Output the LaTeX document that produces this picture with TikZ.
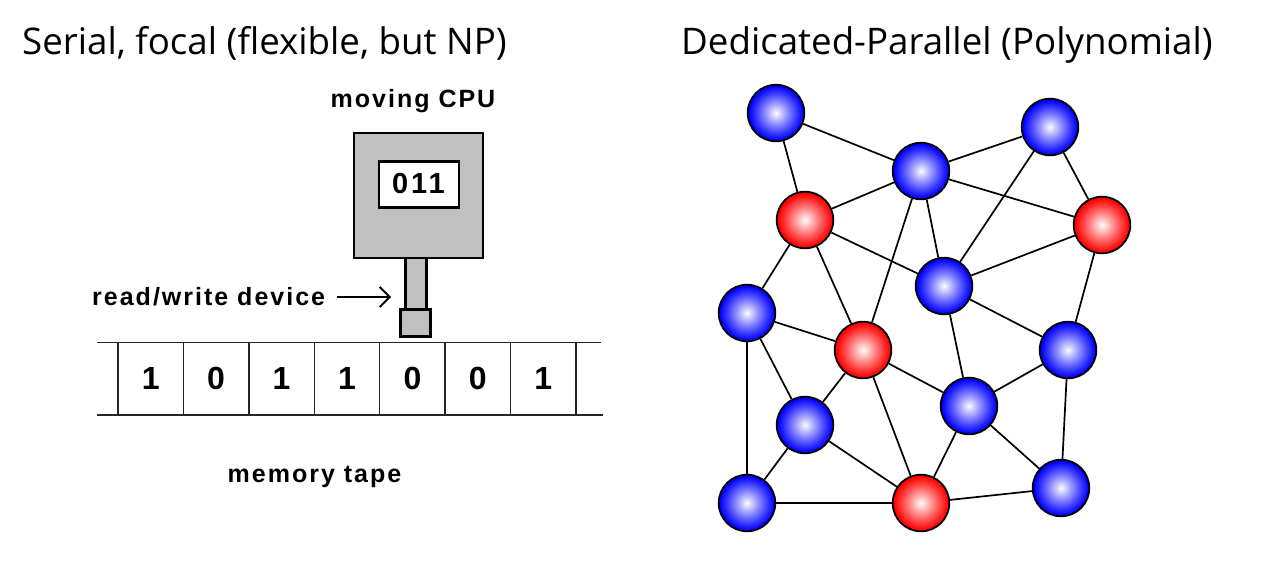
\documentclass[tikz,border=0pt]{standalone}
\usepackage{fontspec}
\setmainfont{Open Sans}
\newfontfamily\labfont[LetterSpace=8]{Liberation Sans}
\newfontfamily\digfont[LetterSpace=10]{Liberation Sans}
\usetikzlibrary{arrows.meta}
\pgfdeclareradialshading{bluesph}{\pgfpoint{0bp}{0bp}}{color(0bp)=(white); color(2bp)=(white!90!blue); color(10bp)=(blue!45!white); color(18bp)=(blue!78!white); color(24bp)=(blue); color(25bp)=(blue); color(50bp)=(blue)}
\pgfdeclareradialshading{redsph}{\pgfpoint{0bp}{0bp}}{color(0bp)=(white); color(2bp)=(white!90!red); color(10bp)=(red!45!white); color(18bp)=(red!78!white); color(24bp)=(red); color(25bp)=(red); color(50bp)=(red)}
\definecolor{boxgray}{RGB}{192,192,192}
\tikzset{
  title/.style={anchor=base west, inner sep=0pt, font=\fontsize{36.7}{40}\selectfont},
  lab/.style={inner sep=0pt, font=\labfont\bfseries\fontsize{25}{28}\selectfont},
  dig/.style={inner sep=0pt, font=\fontspec{Liberation Sans}\bfseries\fontsize{32}{36}\selectfont},
  part/.style={draw=black, line width=2.5pt, fill=boxgray, inner sep=0pt, anchor=north west},
  tapeline/.style={draw=black!85, line width=1.4pt},
  sph/.style={circle, draw=black, line width=1.8pt, minimum size=56.6pt, inner sep=0pt},
  bn/.style={sph, shading=bluesph},
  rn/.style={sph, shading=redsph},
  edge/.style={draw=black, line width=1.7pt}
}
\begin{document}
\begin{tikzpicture}[x=1pt,y=-1pt]
\useasboundingbox (0,0) rectangle (1280,581);
\fill[white] (0,0) rectangle (1280,581);
% titles
\node[title] (t1) at (22,54) {Serial, focal (flexible, but NP)};
\node[title] (t2) at (681,54) {Dedicated-Parallel (Polynomial)};
% CPU
\node[lab, anchor=base] (mcpu) at (413,107) {moving CPU};
\node[part, minimum width=129pt, minimum height=125pt] (cpu) at (352.7,131.7) {};
\node[part, fill=white, minimum width=80pt, minimum height=46pt] (reg) at (377.7,160) {};
\node[inner sep=0pt, font=\digfont\bfseries\fontsize{29}{30}\selectfont] (regtxt) at (418.5,183.5) {011};
\node[part, minimum width=21pt, minimum height=51.3pt] (stem) at (404,256.7) {};
\node[part, minimum width=30pt, minimum height=27pt] (head) at (399,308) {};
% read/write label and arrow
\node[lab, anchor=base west] (rw) at (92,305) {read/write device};
\coordinate (a1) at (337,297);
\coordinate (a2) at (391,297);
\draw[line width=1.8pt, -{Straight Barb[length=10pt,width=20pt,line width=1.8pt]}] (a1) -- (a2);
% tape
\coordinate (tl) at (97,342.5);
\coordinate (tr) at (601,342.5);
\coordinate (bl) at (97,415);
\coordinate (br) at (603,415);
\draw[tapeline] (tl) -- (tr);
\draw[tapeline] (bl) -- (br);
\foreach \i in {0,...,7} {
  \draw[tapeline] (118+65.43*\i,342.5) -- (118+65.43*\i,415);
}
\foreach \d [count=\i from 0] in {1,0,1,1,0,0,1} {
  \node[dig] (c\i) at (150.7+65.43*\i,378.5) {\d};
}
\node[lab, anchor=base] (mt) at (314.5,482) {memory tape};
% graph
\node[bn] (A) at (776,113) {};
\node[bn] (B) at (921,171) {};
\node[bn] (C) at (1050,127) {};
\node[rn] (D) at (805,220) {};
\node[rn] (E) at (1102,225) {};
\node[bn] (F) at (944,286) {};
\node[bn] (G) at (747,313) {};
\node[rn] (H) at (863,350) {};
\node[bn] (I) at (1068,350) {};
\node[bn] (J) at (969,406) {};
\node[bn] (K) at (805,425) {};
\node[bn] (L) at (747,503) {};
\node[rn] (M) at (921,503) {};
\node[bn] (N) at (1061,488) {};
\foreach \u/\v in {A/B,A/D,B/C,B/D,B/E,B/H,B/F,C/F,C/E,D/F,D/G,D/H,E/F,E/I,F/I,F/J,G/H,G/K,G/L,H/J,H/K,H/M,I/J,I/N,J/M,J/N,K/L,K/M,L/M,M/N} {
  \draw[edge] (\u) -- (\v);
}
\end{tikzpicture}
\end{document}
